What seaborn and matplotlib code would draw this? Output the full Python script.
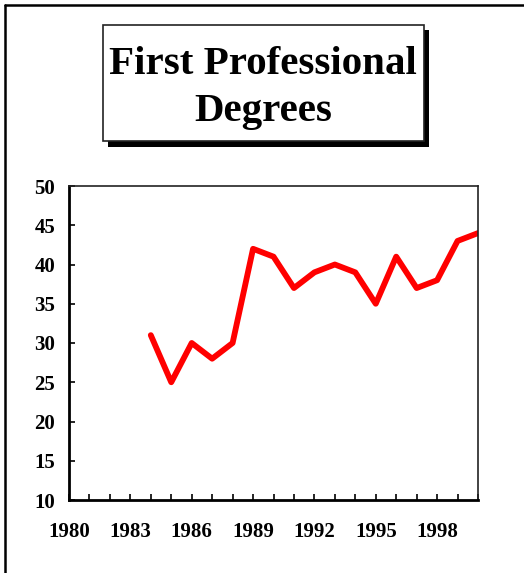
import matplotlib
matplotlib.use("Agg")
import matplotlib.pyplot as plt
import seaborn as sns
import pandas as pd
from matplotlib.patches import Rectangle
from matplotlib.lines import Line2D

years = [1984, 1985, 1986, 1987, 1988, 1989, 1990, 1991, 1992,
         1993, 1994, 1995, 1996, 1997, 1998, 1999, 2000]
degrees = [31, 25, 30, 28, 30, 42, 41, 37, 39, 40, 39, 35, 41, 37, 38, 43, 44]
label_years = [1980, 1983, 1986, 1989, 1992, 1995, 1998]
y_ticks = [10, 15, 20, 25, 30, 35, 40, 45, 50]
title_lines = "First Professional\nDegrees"

df = pd.DataFrame({"year": years, "degrees": degrees})

sns.set_style("ticks")
plt.rcParams["font.family"] = ["Liberation Serif", "DejaVu Serif"]
plt.rcParams["font.weight"] = "bold"
plt.rcParams["text.color"] = "black"
plt.rcParams["xtick.color"] = "black"
plt.rcParams["ytick.color"] = "black"

W, H = 524, 573
fig = plt.figure(figsize=(W / 100, H / 100), dpi=100)

def fx(x):
    return x / W

def fy(y):
    return 1 - y / H

# plot area
ax = fig.add_axes([fx(69), fy(500), fx(478) - fx(69), fy(186) - fy(500)])
sns.lineplot(data=df, x="year", y="degrees", color="red", lw=4.2, ax=ax)

ax.set_xlim(1980, 2000)
ax.set_ylim(10, 50)
ax.set_xticks(label_years)
ax.set_xticks(range(1980, 2001), minor=True)
ax.set_xticklabels([str(y) for y in label_years], fontsize=15, fontweight="bold", color="black")
ax.set_yticks(y_ticks)
ax.set_yticklabels([str(v) for v in y_ticks], fontsize=15, fontweight="bold", color="black")
ax.tick_params(axis="both", which="both", direction="in", length=4, width=1.2, color="black")
ax.tick_params(axis="x", which="both", pad=16)
ax.tick_params(axis="y", pad=10)
ax.set_xlabel("")
ax.set_ylabel("")
for side in ["left", "bottom"]:
    ax.spines[side].set_linewidth(2)
    ax.spines[side].set_color("black")
for side in ["top", "right"]:
    ax.spines[side].set_linewidth(1.2)
    ax.spines[side].set_color("#222222")

# outer frame (left and top only)
fig.add_artist(Line2D([fx(5), fx(5)], [fy(5), 0], color="black", lw=1.8, transform=fig.transFigure))
fig.add_artist(Line2D([fx(5), 1], [fy(5), fy(5)], color="black", lw=1.8, transform=fig.transFigure))

# title box with shadow
fig.add_artist(Rectangle((fx(108), fy(147)), fx(429) - fx(108), fy(30) - fy(147),
                         facecolor="black", edgecolor="none", transform=fig.transFigure))
fig.add_artist(Rectangle((fx(103), fy(141)), fx(424) - fx(103), fy(25) - fy(141),
                         facecolor="white", edgecolor="#222222", lw=1.2, transform=fig.transFigure))
fig.text(fx(263), fy(88), title_lines, ha="center", va="center", fontsize=29.5,
         fontweight="bold", linespacing=1.38, color="black")

fig.savefig("out.png", dpi=100)
